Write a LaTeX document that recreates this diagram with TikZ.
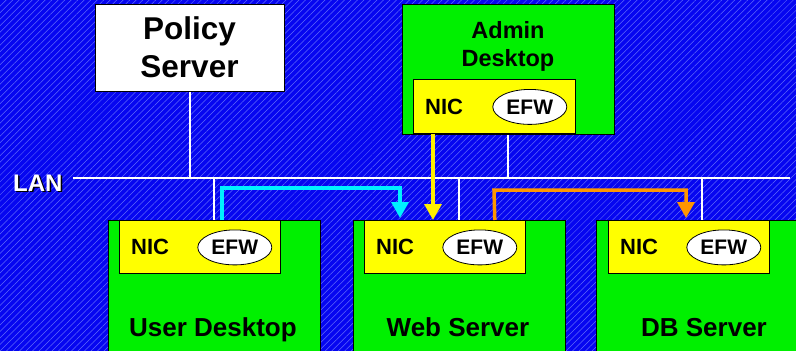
\documentclass[tikz,border=0pt]{standalone}
\usepackage{fontspec}
\setmainfont{Liberation Sans}
\usetikzlibrary{arrows.meta,patterns.meta,shapes.geometric,calc}
\definecolor{bgblue}{RGB}{6,6,240}
\definecolor{hatch}{RGB}{95,105,250}
\definecolor{boxgreen}{RGB}{0,240,0}
\definecolor{nicyellow}{RGB}{255,255,0}
\definecolor{flowcyan}{RGB}{0,240,255}
\definecolor{flowyellow}{RGB}{255,240,0}
\definecolor{floworange}{RGB}{255,150,0}
\tikzset{
  hostbox/.style={draw=black, line width=0.8pt, fill=boxgreen, anchor=north west, inner sep=0pt,
                  minimum width=212pt, minimum height=140pt},
  nicbox/.style={draw=black, line width=0.8pt, fill=nicyellow, anchor=north west, inner sep=0pt,
                 minimum width=161pt, minimum height=53pt},
  efw/.style={ellipse, draw=black, line width=0.8pt, fill=white, minimum width=74pt,
              minimum height=35pt, inner sep=0pt, font=\fontsize{21}{21}\selectfont\bfseries},
  niclabel/.style={anchor=west, inner sep=0pt, font=\fontsize{22}{22}\selectfont\bfseries},
  hostlabel/.style={anchor=base, inner sep=0pt, font=\fontsize{26}{26}\selectfont\bfseries},
  wire/.style={white, line width=2pt},
  flow/.style={line width=3.5pt, -{Triangle[width=17pt,length=16pt]}},
}
\begin{document}
\begin{tikzpicture}[x=1pt,y=-1pt]
\useasboundingbox (0,0) rectangle (796,351);
\clip (0,0) rectangle (796,351);
% background
\fill[bgblue] (0,0) rectangle (796,351);
\fill[pattern={Lines[angle=45,distance=4.6pt,line width=0.5pt]}, pattern color=hatch] (0,0) rectangle (796,351);

% boxes (nodes)
\node[draw=black, line width=1pt, fill=white, anchor=north west, inner sep=0pt,
      minimum width=189pt, minimum height=87pt] (policy) at (95,4) {};
\node[hostbox, minimum height=130pt] (admin) at (402,4) {};
\node[hostbox] (user) at (108,220) {};
\node[hostbox] (web) at (353,220) {};
\node[hostbox] (db) at (596,220) {};

% LAN
\coordinate (lanL) at (73,178);
\coordinate (lanR) at (790,178);
\draw[wire] (lanL) -- (lanR);
\draw[wire] (policy.south) -- (policy.south |- lanL);
\draw[wire] (admin.south) -- (admin.south |- lanL);
\draw[wire] (user.north |- lanL) -- (user.north);
\draw[wire] (web.north |- lanL) -- (web.north);
\draw[wire] (db.north |- lanL) -- (db.north);

% NIC boxes
\node[nicbox, minimum width=162pt, minimum height=54pt] (adminnic) at (413,79) {};
\node[nicbox] (usernic) at ($(user.north west)+(11,0)$) {};
\node[nicbox] (webnic) at ($(web.north west)+(11,0)$) {};
\node[nicbox] (dbnic) at ($(db.north west)+(12,0)$) {};

\foreach \n in {adminnic,usernic,webnic,dbnic}{
  \node[niclabel] (\n-t) at ($(\n.west)+(12,0.5)$) {NIC};
  \node[efw] (\n-e) at ($(\n.east)+(-46,0.5)$) {EFW};
}

% labels
\node[align=center, inner sep=0pt, font=\fontsize{31.5}{38}\selectfont\bfseries] (policyt) at (189.5,47.5) {Policy\\Server};
\node[align=center, inner sep=0pt, font=\fontsize{23.5}{28}\selectfont\bfseries] (admint) at (508,46.8) {Admin\\Desktop};
\node[hostlabel] (usert) at (213,336) {User Desktop};
\node[hostlabel] (webt) at (458,336) {Web Server};
\node[hostlabel] (dbt) at (704,336) {DB Server};
\node[anchor=base west, inner sep=0pt, font=\fontsize{24}{24}\selectfont\bfseries, text=black] (lanshadow) at (14.5,192.5) {LAN};
\node[anchor=base west, inner sep=0pt, font=\fontsize{24}{24}\selectfont\bfseries, text=white] (lant) at (13,191) {LAN};

% flows
\coordinate (c1) at ($(user.north west)+(114,0)$);
\coordinate (c1b) at (222,188);
\coordinate (c1e) at ($(webnic.north west)+(36,0)$);
\draw[flow, flowcyan, shorten >=2pt] (c1) -- (c1b) -- (c1b -| c1e) -- (c1e);

\coordinate (c2) at ($(adminnic.south west)+(20,0)$);
\draw[flow, flowyellow] (c2) -- (c2 |- webnic.north);

\coordinate (c3) at ($(webnic.north east)+(-31,0)$);
\coordinate (c3b) at (494,190);
\coordinate (c3e) at ($(dbnic.north west)+(78,0)$);
\draw[flow, floworange, shorten >=2pt] (c3) -- (c3b) -- (c3b -| c3e) -- (c3e);
\end{tikzpicture}
\end{document}
